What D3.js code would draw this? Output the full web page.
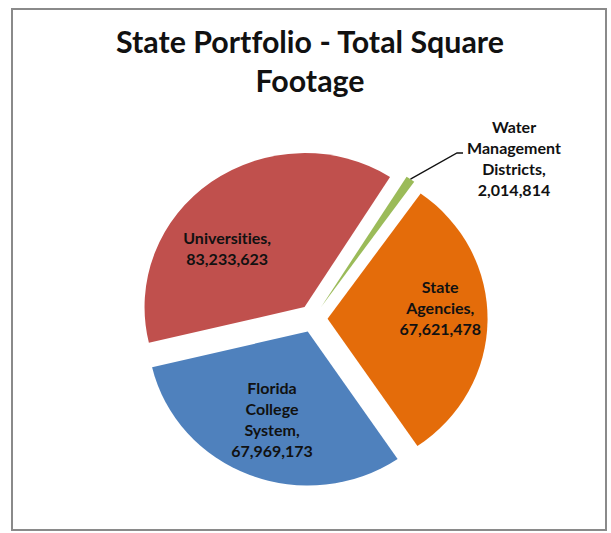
<!DOCTYPE html>
<html>
<head>
<meta charset="utf-8">
<script src="https://cdn.jsdelivr.net/npm/d3@7"></script>
<style>
  html, body { margin: 0; padding: 0; background: #fff; }
  svg { display: block; }
  text { font-family: Lato, "Open Sans", sans-serif; font-weight: bold; fill: #111; font-variant-ligatures: none; font-feature-settings: "liga" 0; }
</style>
</head>
<body>
<svg id="chart" width="611" height="533"></svg>
<script>
// ---- data ----
const categories = ["Water Management Districts", "State Agencies", "Florida College System", "Universities"];
const values = [2014814, 67621478, 67969173, 83233623];
const labelLines = [["Water", "Management", "Districts,"], ["State", "Agencies,"], ["Florida", "College", "System,"], ["Universities,"]];
const colors = ["#9BBB59", "#E46C0A", "#4F81BD", "#C0504D"];
const titleLines = ["State Portfolio - Total Square", "Footage"];

// ---- layout ----
const W = 611, H = 533;
const cx = 313, cy = 318.5;
const R = 154, sx = 1.039;    // slight horizontal stretch, as in the reference
const explode = 14;
const startDeg = 32.3;
const fmt = d3.format(",");

const svg = d3.select("#chart");

// frame
svg.append("rect")
  .attr("x", 12).attr("y", 9).attr("width", 594).attr("height", 521)
  .attr("fill", "none").attr("stroke", "#8a8a8a").attr("stroke-width", 2);

// title
const title = svg.append("text").attr("text-anchor", "middle").attr("font-size", 28);
titleLines.forEach((t, i) => {
  title.append("tspan").attr("x", 310).attr("y", 53 + i * 39).text(t);
});
{
  const w = title.select("tspan").node().getComputedTextLength();
  title.attr("font-size", 28 * 388 / w);
}

const pie = d3.pie().sort(null).value(d => d)
  .startAngle(startDeg * Math.PI / 180)
  .endAngle((startDeg + 360) * Math.PI / 180);
const arcs = pie(values);
const arc = d3.arc().innerRadius(0).outerRadius(R);

const g = svg.append("g").attr("transform", `translate(${cx},${cy}) scale(${sx},1)`);
g.selectAll("path").data(arcs).enter().append("path")
  .attr("d", arc)
  .attr("fill", (d, i) => colors[i])
  .attr("transform", d => {
    const m = (d.startAngle + d.endAngle) / 2;
    return `translate(${explode * Math.sin(m)},${-explode * Math.cos(m)})`;
  });

function pt(d, r, a) {
  const m = (d.startAngle + d.endAngle) / 2;
  const ang = a === undefined ? m : a;
  const ax = explode * Math.sin(m), ay = -explode * Math.cos(m);
  return [cx + sx * (ax + r * Math.sin(ang)), cy + ay - r * Math.cos(ang)];
}

const fs = 16, lh = 21;
function label(x, y, lines, lineH) {
  const t = svg.append("text").attr("text-anchor", "middle").attr("font-size", fs);
  const n = lines.length;
  lines.forEach((s, i) => {
    t.append("tspan").attr("x", x).attr("y", y + (i - (n - 1) / 2) * lineH + 5.5).text(s);
  });
  return t;
}

const nudges = [null, [14, -11], [0, 0], [-20, 19]];
arcs.forEach((d, i) => {
  if (i === 0) return;
  const p = pt(d, 95);
  label(p[0] + nudges[i][0], p[1] + nudges[i][1], labelLines[i].concat([fmt(values[i])]), lh);
});

{
  const d = arcs[0];
  const p0 = pt(d, R);
  const lx = 514, ly = 159;
  svg.append("path")
    .attr("d", `M${p0[0]},${p0[1]} L${lx - 57},${ly - 6} L${lx - 51},${ly - 6}`)
    .attr("fill", "none").attr("stroke", "#111").attr("stroke-width", 1.3);
  label(lx, ly, labelLines[0].concat([fmt(values[0])]), 20.7);
}
</script>
</body>
</html>
